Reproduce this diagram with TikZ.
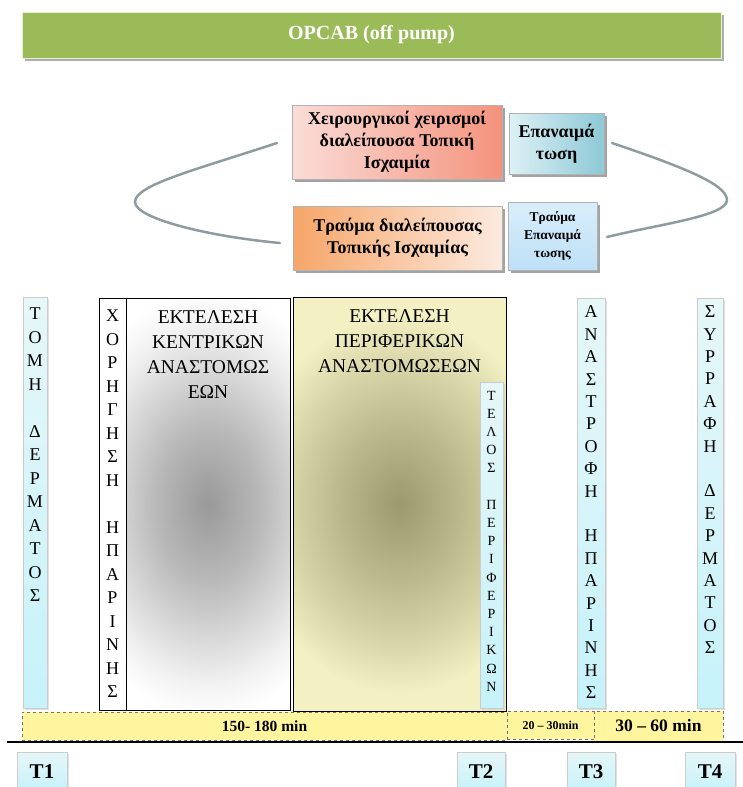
\documentclass[tikz,border=0pt]{standalone}
\usepackage{fontspec}
\setmainfont{Liberation Serif}
\usepackage{xcolor}
\usetikzlibrary{positioning,shadows}

\definecolor{titlegreen}{HTML}{9BBB59}
\definecolor{pinkL}{HTML}{FADCD7}
\definecolor{pinkR}{HTML}{F4937D}
\definecolor{tealL}{HTML}{DDF0F5}
\definecolor{tealD}{HTML}{8DC9D6}
\definecolor{orangeL}{HTML}{F6A669}
\definecolor{orangeR}{HTML}{FCEAE0}
\definecolor{skyL}{HTML}{D9EEFB}
\definecolor{skyD}{HTML}{BEE0F7}
\definecolor{stripL}{HTML}{E6F7F8}
\definecolor{stripD}{HTML}{C6F2FA}
\definecolor{barfill}{HTML}{FEF59E}
\definecolor{curvegray}{HTML}{8E9CA0}
\definecolor{goldC}{HTML}{9C996C}
\definecolor{goldO}{HTML}{F3F0C3}

\pgfdeclareradialshading{grayglow}{\pgfpoint{0bp}{0bp}}{%
  color(0bp)=(black!40); color(9bp)=(black!28); color(17bp)=(black!14);
  color(22bp)=(black!5); color(26bp)=(white); color(50bp)=(white)}
\pgfdeclareradialshading{goldglow}{\pgfpoint{0bp}{0bp}}{%
  color(0bp)=(goldC); color(9bp)=(goldC!65!goldO); color(17bp)=(goldC!30!goldO);
  color(23bp)=(goldO); color(50bp)=(goldO)}

\tikzset{
  plate/.style={draw=black!30, inner sep=0, align=center,
    font=\bfseries\fontsize{18}{22}\selectfont,
    drop shadow={shadow xshift=2.5pt, shadow yshift=-2.5pt, fill=black!45, opacity=.8}},
  strip/.style={draw=black!20, inner sep=0, top color=stripL, bottom color=stripD,
    drop shadow={shadow xshift=1.5pt, shadow yshift=-1.5pt, fill=black!20, opacity=.6}},
  glowbox/.style={draw, line width=0.8pt, inner sep=0,
    path picture={\shade[shading=#1] ([xshift=-60pt]path picture bounding box.north west)
      rectangle ([xshift=60pt]path picture bounding box.south east);}},
  letters/.style={align=center, inner sep=0, font=\fontsize{18}{23.5}\selectfont},
  bigtext/.style={align=center, inner sep=0, font=\fontsize{19.5}{25}\selectfont},
  bar/.style={draw=black!55, dashed, fill=barfill, inner sep=0, font=\bfseries},
  tbox/.style={strip, minimum height=40, font=\bfseries\fontsize{21}{22}\selectfont},
  cycleline/.style={draw=curvegray, line width=2.5pt, line cap=round}
}

\begin{document}
\begin{tikzpicture}[x=1pt, y=-1pt]
  \clip (0,0) rectangle (743,787);

  % title bar
  \node[fill=titlegreen, draw=white!75!titlegreen, minimum width=699, minimum height=46,
        drop shadow={shadow xshift=3pt, shadow yshift=-3pt, fill=black!40, opacity=.8},
        text=white, font=\bfseries\fontsize{20}{22}\selectfont] (title) at (371.5,35) {OPCAB (off pump)};

  % ischaemia / reperfusion cycle
  \node[plate, left color=pinkL, right color=pinkR, minimum width=210, minimum height=74]
    (ischemia) at (397,142) {Χειρουργικοί χειρισμοί\\διαλείπουσα Τοπική\\Ισχαιμία};
  \node[plate, left color=tealL, right color=tealD, minimum width=95, minimum height=61]
    (reperf) at (556.5,143.5) {Επαναιμά\\τωση};
  \node[plate, left color=orangeL, right color=orangeR, minimum width=209, minimum height=64]
    (trauma) at (397.5,238) {Τραύμα διαλείπουσας\\Τοπικής Ισχαιμίας};
  \node[plate, top color=skyL, bottom color=skyD, minimum width=89, minimum height=68,
        font=\bfseries\fontsize{13.5}{18}\selectfont]
    (rtrauma) at (552.5,236) {Τραύμα\\Επαναιμά\\τωσης};

  \coordinate (lt) at (277,143);
  \coordinate (lm) at (135,202);
  \coordinate (lb) at (280,243);
  \coordinate (rt) at (612,143);
  \coordinate (rm) at (727,200);
  \coordinate (rb) at (607,237);
  \draw[cycleline] (lt) .. controls (195,170) and (135,185) .. (lm)
                        .. controls (135,218) and (205,236) .. (lb);
  \draw[cycleline] (rt) .. controls (680,166) and (727,184) .. (rm)
                        .. controls (727,216) and (660,224) .. (rb);

  % stages
  \node[strip, minimum width=24, minimum height=411] (skincut) at (35,502.5) {};
  \node[letters, below=11pt of skincut.north] (skincuttxt)
    {Τ\\Ο\\Μ\\Η\\~\\Δ\\Ε\\Ρ\\Μ\\Α\\Τ\\Ο\\Σ};

  \node[draw, line width=0.8pt, fill=white, minimum width=27, minimum height=412, inner sep=0]
    (heparin) at (112.5,504) {};
  \node[letters, below=12pt of heparin.north] (heparintxt)
    {Χ\\Ο\\Ρ\\Η\\Γ\\Η\\Σ\\Η\\~\\Η\\Π\\Α\\Ρ\\Ι\\Ν\\Η\\Σ};

  \node[glowbox=grayglow, minimum width=164, minimum height=412] (central) at (208,504) {};
  \node[bigtext, below=13pt of central.north] (centraltxt)
    {ΕΚΤΕΛΕΣΗ\\ΚΕΝΤΡΙΚΩΝ\\ΑΝΑΣΤΟΜΩΣ\\ΕΩΝ};

  \node[glowbox=goldglow, minimum width=213, minimum height=414] (peripheral) at (399.5,504) {};
  \node[bigtext, below=13pt of peripheral.north] (peripheraltxt)
    {ΕΚΤΕΛΕΣΗ\\ΠΕΡΙΦΕΡΙΚΩΝ\\ΑΝΑΣΤΟΜΩΣΕΩΝ};

  \node[strip, minimum width=23, minimum height=326] (periend) at (491.5,545) {};
  \node[letters, font=\fontsize{14}{18.2}\selectfont, below=9pt of periend.north] (periendtxt)
    {Τ\\Ε\\Λ\\Ο\\Σ\\~\\Π\\Ε\\Ρ\\Ι\\Φ\\Ε\\Ρ\\Ι\\Κ\\Ω\\Ν};

  \node[strip, minimum width=28, minimum height=410] (reversal) at (591,503) {};
  \node[letters, font=\fontsize{18}{22.4}\selectfont, below=8pt of reversal.north] (reversaltxt)
    {Α\\Ν\\Α\\Σ\\Τ\\Ρ\\Ο\\Φ\\Η\\~\\Η\\Π\\Α\\Ρ\\Ι\\Ν\\Η\\Σ};

  \node[strip, minimum width=26, minimum height=410] (closure) at (710,503) {};
  \node[letters, font=\fontsize{18}{22.4}\selectfont, below=8pt of closure.north] (closuretxt)
    {Σ\\Υ\\Ρ\\Ρ\\Α\\Φ\\Η\\~\\Δ\\Ε\\Ρ\\Μ\\Α\\Τ\\Ο\\Σ};

  % durations
  \node[bar, minimum width=485, minimum height=28, font=\bfseries\fontsize{15.5}{17}\selectfont]
    (d150) at (264.5,726) {150- 180 min};
  \node[bar, minimum width=87, minimum height=28, font=\bfseries\fontsize{12}{14}\selectfont]
    (d20) at (550.5,725) {20 – 30min};
  \node[bar, minimum width=129, minimum height=30, font=\bfseries\fontsize{17.5}{19}\selectfont]
    (d30) at (658.5,726) {30 – 60 min};

  \draw[line width=1.2pt] (7,742) -- (743,742);

  % time points
  \foreach \n/\x/\w in {1/42/50,2/481/48,3/591/48,4/710/50}
    \node[tbox, minimum width=\w] (T\n) at (\x,772) {T\n};
\end{tikzpicture}
\end{document}
